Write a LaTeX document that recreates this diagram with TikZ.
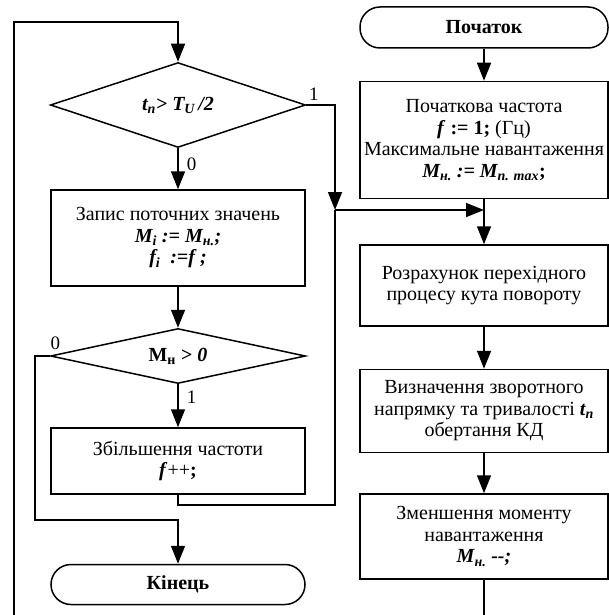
\documentclass[tikz,border=0pt]{standalone}
\usepackage{fontspec}
\setmainfont{Liberation Serif}
\usepackage{tikz}
\usetikzlibrary{shapes, arrows.meta, positioning, calc}

\newcommand{\bi}[1]{\textbf{\textit{#1}}}

\begin{document}
\begin{tikzpicture}[x=1pt, y=-1pt, >={Triangle[length=18pt, width=14pt]},
    font=\fontsize{20}{21.5}\selectfont, line width=1.5pt,
    block/.style={rectangle, draw, align=center, inner sep=2pt},
    lblock/.style={block, minimum width=254pt},
    rblock/.style={block, minimum width=248pt},
    cond/.style={diamond, draw, aspect=3, inner sep=0pt, minimum width=255pt},
    term/.style={rectangle, draw, rounded corners=20pt, align=center, minimum height=41pt},
    lbl/.style={font=\fontsize{19}{21}\selectfont, inner sep=2pt}]

    \useasboundingbox (0,0) rectangle (609,615);

    % Left column
    \node (tcheck) [cond, minimum height=85pt] at (178,105) {\bi{t\textsubscript{n}> T\textsubscript{U}\,/2}};
    \node (store) [lblock, minimum height=96pt, below=41pt of tcheck] {Запис поточних значень\\ \bi{M\textsubscript{i} := M\textsubscript{н.};}\\ \bi{f\textsubscript{i}~ :=f ;}};
    \node (mcheck) [cond, minimum height=55pt, below=41pt of store] {\textbf{М\textsubscript{н} >} \bi{0}};
    \node (incf) [lblock, minimum height=66pt, below=43pt of mcheck] {Збільшення частоти\\ \bi{f}++\textbf{;}};
    \node (stop) [term, minimum width=254pt, minimum height=40pt, below=69pt of incf] {\textbf{Кінець}};

    % Right column
    \node (start) [term, minimum width=248pt] at (484,27.5) {\textbf{Початок}};
    \node (init) [rblock, minimum height=117pt, below=32pt of start] {Початкова частота\\ \bi{f} \textbf{:= 1;} (Гц)\\ Максимальне навантаження\\ \bi{M\textsubscript{н.} := M\textsubscript{п. max}}\textbf{;}};
    \node (trans) [rblock, minimum height=81pt, below=45pt of init] {Розрахунок перехідного\\ процесу кута повороту};
    \node (dirn) [rblock, minimum height=83pt, below=42pt of trans] {Визначення зворотного\\ напрямку та тривалості \bi{t\textsubscript{n}}\\ обертання КД};
    \node (decm) [rblock, minimum height=85pt, below=40pt of dirn] {Зменшення моменту\\ навантаження\\ \bi{M\textsubscript{н.} -{}-;}};

    \coordinate (ltop) at (14,22);
    \coordinate (lbot) at (14,615);
    \coordinate (join) at (335,210);
    \coordinate (back) at (335,505);
    \coordinate (turn) at (35,520);
    \coordinate (merge) at (init.south |- join);
    \coordinate (rbot) at (decm.south |- lbot);

    % Main flow
    \draw [->] (lbot) -- (ltop) -| (tcheck.north);
    \draw [->] (tcheck) -- node[lbl, right, pos=0.4, xshift=6pt] {0} (store);
    \draw [->] (store) -- (mcheck);
    \draw [->] (mcheck) -- node[lbl, right, pos=0.3, xshift=6pt] {1} (incf);
    \draw [->] (mcheck.west) node[lbl, above right, xshift=-2pt, yshift=4pt] {0} -| (turn) -| (stop.north);

    % Loop back to the right column
    \draw [->] (tcheck.east) node[lbl, above right, yshift=2pt] {1} -| (join);
    \draw (incf.south) |- (back) -- (join);
    \draw [->] (join) -- (merge);

    \draw [->] (start) -- (init);
    \draw [->] (init) -- (trans);
    \draw [->] (trans) -- (dirn);
    \draw [->] (dirn) -- (decm);
    \draw (decm) -- (rbot);

\end{tikzpicture}
\end{document}
